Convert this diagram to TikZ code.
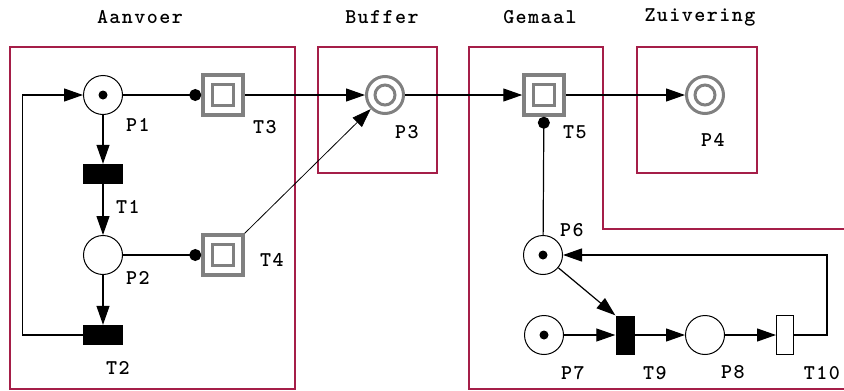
\documentclass[tikz,border=0pt]{standalone}
\usepackage{fontspec}
\newfontfamily\labfont[LetterSpace=7]{lmmonolt10-bold.otf}
\usetikzlibrary{arrows.meta}
\definecolor{regioncol}{RGB}{165,30,72}
\definecolor{greycol}{RGB}{128,128,128}
\begin{document}
\begin{tikzpicture}[x=1pt,y=-1pt,
  region/.style={draw=regioncol,line width=1.4pt},
  txt/.style={font=\labfont\fontsize{21}{21}\selectfont,inner sep=0pt},
  arc/.style={line width=1.2pt,-{Triangle[length=19pt,width=13pt]}},
  dotarc/.style={line width=1.2pt,-{Circle[length=12pt]}},
  place/.style={circle,draw,line width=1pt,minimum size=39pt,inner sep=0pt,fill=white},
  tokplace/.style={place,path picture={\fill[black] (path picture bounding box.center) circle (4.5);}},
  gplace/.style={circle,draw=greycol,line width=3pt,minimum size=37pt,inner sep=0pt,fill=white,
    path picture={\draw[greycol,line width=3pt] (path picture bounding box.center) circle (10);}},
  gtrans/.style={rectangle,draw=greycol,line width=3.5pt,minimum size=40pt,inner sep=0pt,fill=white,
    path picture={\draw[greycol,line width=3pt] ([shift={(-10.5,-10.5)}]path picture bounding box.center) rectangle ([shift={(10.5,10.5)}]path picture bounding box.center);}},
  htrans/.style={rectangle,fill=black,minimum width=40pt,minimum height=20pt,inner sep=0pt},
  vtrans/.style={rectangle,fill=black,minimum width=19pt,minimum height=39pt,inner sep=0pt},
  otrans/.style={rectangle,draw,line width=1pt,fill=white,minimum width=17pt,minimum height=39pt,inner sep=0pt}]
\useasboundingbox (0,0) rectangle (844,391);
\clip (0,0) rectangle (844,391);

% regions
\draw[region] (10,47) rectangle (295,389);
\draw[region] (318,47) rectangle (437,173);
\draw[region] (860,389) -- (469,389) -- (469,47) -- (603,47) -- (603,229) -- (860,229);
\draw[region] (637,47) rectangle (757,173);

% region titles
\node[txt] (tAanvoer) at (140,17) {Aanvoer};
\node[txt] (tBuffer) at (382,17) {Buffer};
\node[txt] (tGemaal) at (540,17) {Gemaal};
\node[txt] (tZuivering) at (700,17) {Zuivering};

% places and transitions
\node[tokplace] (P1) at (103,95) {};
\node[htrans] (T1) at (103,174) {};
\node[place] (P2) at (103,255) {};
\node[htrans] (T2) at (103,335) {};
\node[gtrans] (T3) at (223,95) {};
\node[gtrans] (T4) at (223,255) {};
\node[gplace] (P3) at (385,95) {};
\node[gtrans] (T5) at (544,95) {};
\node[gplace] (P4) at (705,95) {};
\node[tokplace] (P6) at (543,255) {};
\node[tokplace] (P7) at (544,335) {};
\node[vtrans] (T9) at (625,335) {};
\node[place] (P8) at (705,335) {};
\node[otrans] (T10) at (785,335) {};

% labels
\node[txt] (lP1) at (138,125) {P1};
\node[txt] (lT3) at (265,127) {T3};
\node[txt] (lT1) at (128,207) {T1};
\node[txt] (lP2) at (138,278) {P2};
\node[txt] (lT4) at (272,260) {T4};
\node[txt] (lT2) at (118,368) {T2};
\node[txt] (lP3) at (407,132) {P3};
\node[txt] (lT5) at (575,132) {T5};
\node[txt] (lP4) at (713,140) {P4};
\node[txt] (lP6) at (572,230) {P6};
\node[txt] (lP7) at (573,373) {P7};
\node[txt] (lT9) at (655,373) {T9};
\node[txt] (lP8) at (733,372) {P8};
\node[txt] (lT10) at (822,373) {T10};

% arcs
\draw[arc] (P1) -- (T1);
\draw[arc] (T1) -- (P2);
\draw[arc] (P2) -- (T2);
\draw[arc] (T2.west) -- ++(-60,0) |- (P1);
\draw[dotarc] (P1) -- (T3);
\draw[dotarc] (P2) -- (T4);
\draw[arc] (T3) -- (P3);
\draw[line width=0.8pt,-{Triangle[length=19pt,width=13pt]}] (T4.north east) -- (P3);
\draw[arc] (P3) -- (T5);
\draw[arc] (T5) -- (P4);
\draw[dotarc] (P6) -- (T5);
\draw[arc] (P6) -- (T9.north west);
\draw[arc] (P7) -- (T9);
\draw[arc] (T9) -- (P8);
\draw[arc] (P8) -- (T10);
\draw[arc] (T10.east) -- ++(33,0) |- (P6);
\end{tikzpicture}
\end{document}
